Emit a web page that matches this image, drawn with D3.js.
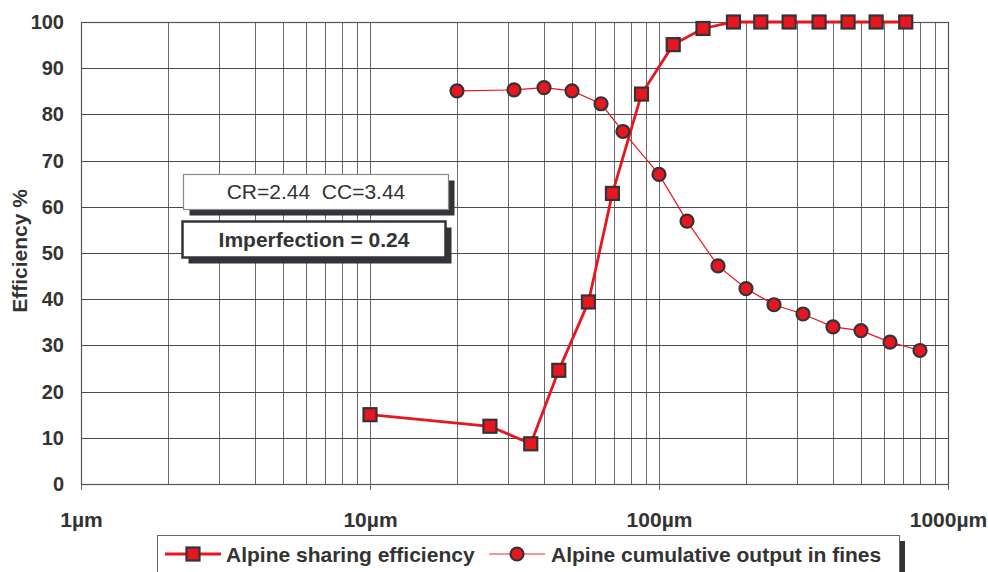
<!DOCTYPE html>
<html>
<head>
<meta charset="utf-8">
<script src="https://cdn.jsdelivr.net/npm/d3@7"></script>
<style>
  html, body { margin: 0; padding: 0; background: #fff; }
  svg { display: block; font-family: "Liberation Sans", Arial, Helvetica, sans-serif; }
  text { white-space: pre; }
</style>
</head>
<body>
<svg id="chart" width="988" height="572"></svg>
<script>
// Particle size (µm) and efficiency (%) for the sharing-efficiency curve
const sharingSize = [10, 26, 36, 45, 57, 69, 87, 112, 142, 181, 225, 282, 358, 451, 564, 714];
const sharingEff  = [15, 12.5, 8.7, 24.6, 39.4, 62.9, 84.4, 95.1, 98.6, 100, 100, 100, 100, 100, 100, 100];

// Particle size (µm) and cumulative output in fines (%)
const cumulSize = [20, 31.5, 40, 50, 63, 75, 100, 125, 160, 200, 250, 315, 400, 500, 630, 800];
const cumulOut  = [85.1, 85.3, 85.8, 85.1, 82.3, 76.3, 67, 56.9, 47.2, 42.3, 38.8, 36.8, 34.0, 33.2, 30.7, 28.9];

const yTicks = [0, 10, 20, 30, 40, 50, 60, 70, 80, 90, 100];
const xTickValues = [1, 10, 100, 1000];
const xTickLabels = ["1µm", "10µm", "100µm", "1000µm"];
const seriesNames = ["Alpine sharing efficiency", "Alpine cumulative output in fines"];
const notes = ["CR=2.44  CC=3.44", "Imperfection = 0.24"];

const svg = d3.select("#chart");
const m = { left: 81, right: 948, top: 22, bottom: 484 };
const red = "#e8161f", dark = "#333338", ink = "#333";

const x = d3.scaleLog().domain([1, 1000]).range([m.left, m.right]);
const y = d3.scaleLinear().domain([0, 100]).range([m.bottom, m.top]);

// Vertical log grid (1..9 in each decade)
const minor = [];
for (let d = 1; d < 1000; d *= 10) for (let k = 1; k <= 9; k++) minor.push(d * k);
minor.push(1000);
svg.append("g").selectAll("line").data(minor).join("line")
  .attr("x1", d => Math.round(x(d)) + 0.5).attr("x2", d => Math.round(x(d)) + 0.5)
  .attr("y1", m.top).attr("y2", m.bottom)
  .attr("stroke", "#6a6a6a").attr("stroke-width", 1);

// Horizontal grid
svg.append("g").selectAll("line").data(yTicks).join("line")
  .attr("x1", m.left).attr("x2", m.right)
  .attr("y1", d => Math.round(y(d)) + 0.5).attr("y2", d => Math.round(y(d)) + 0.5)
  .attr("stroke", "#4a4a4a").attr("stroke-width", 1);

// Frame
svg.append("rect")
  .attr("x", m.left + 0.5).attr("y", m.top + 0.5)
  .attr("width", m.right - m.left).attr("height", m.bottom - m.top)
  .attr("fill", "none").attr("stroke", "#555").attr("stroke-width", 1.2);

// Y axis labels
const yAxis = d3.axisLeft(y).tickValues(yTicks).tickSize(0).tickPadding(0);
const gy = svg.append("g").attr("transform", `translate(${m.left - 17},0)`).call(yAxis);
gy.select(".domain").remove();
gy.selectAll("text")
  .attr("font-size", 20).attr("font-weight", "bold").attr("fill", ink)
  .attr("font-family", "Liberation Sans, Arial, sans-serif");

// X axis: decade ticks below the frame plus labels
const xAxis = d3.axisBottom(x).tickValues(xTickValues)
  .tickFormat((d, i) => xTickLabels[i]).tickSize(6).tickPadding(22);
const gx = svg.append("g").attr("transform", `translate(0,${m.bottom})`).call(xAxis);
gx.select(".domain").remove();
gx.selectAll("line").attr("stroke", "#666");
gx.selectAll("text")
  .attr("font-size", 21).attr("font-weight", "bold").attr("fill", ink)
  .attr("font-family", "Liberation Sans, Arial, sans-serif");

// Y axis title
svg.append("text")
  .attr("transform", `translate(27,${(m.top + m.bottom) / 2 - 2}) rotate(-90)`)
  .attr("text-anchor", "middle")
  .attr("font-size", 21).attr("font-weight", "bold").attr("fill", ink)
  .text("Efficiency %");

// Annotation boxes with drop shadows
function noteBox(x0, y0, w, h, text, bold, strokeW, strokeC) {
  svg.append("rect").attr("x", x0 + 6).attr("y", y0 + 6).attr("width", w).attr("height", h)
    .attr("fill", dark);
  svg.append("rect").attr("x", x0).attr("y", y0).attr("width", w).attr("height", h)
    .attr("fill", "#fff").attr("stroke", strokeC).attr("stroke-width", strokeW);
  svg.append("text").attr("x", x0 + w / 2).attr("y", y0 + h / 2 + 7)
    .attr("text-anchor", "middle").attr("font-size", 21)
    .attr("font-weight", bold ? "bold" : "normal").attr("fill", ink)
    .text(text);
}
noteBox(183.5, 174.5, 265, 35, notes[0], false, 1.2, "#8a8a8a");
noteBox(182.5, 221.5, 263, 36, notes[1], true, 2.5, dark);

// Series lines
const cumulData = cumulSize.map((s, i) => [s, cumulOut[i]]);
const shareData = sharingSize.map((s, i) => [s, sharingEff[i]]);
const line = d3.line().x(d => x(d[0])).y(d => y(d[1]));

svg.append("path").datum(cumulData).attr("d", line)
  .attr("fill", "none").attr("stroke", red).attr("stroke-width", 1.2);
svg.append("path").datum(shareData).attr("d", line)
  .attr("fill", "none").attr("stroke", red).attr("stroke-width", 2.8);

// Markers
svg.append("g").selectAll("circle").data(cumulData).join("circle")
  .attr("cx", d => x(d[0])).attr("cy", d => y(d[1])).attr("r", 6.5)
  .attr("fill", red).attr("stroke", dark).attr("stroke-width", 2.2);
svg.append("g").selectAll("rect").data(shareData).join("rect")
  .attr("x", d => x(d[0]) - 6.5).attr("y", d => y(d[1]) - 6.5)
  .attr("width", 13).attr("height", 13)
  .attr("fill", red).attr("stroke", dark).attr("stroke-width", 2.2);

// Legend
const lg = svg.append("g");
lg.append("rect").attr("x", 163).attr("y", 541).attr("width", 742).attr("height", 40).attr("fill", dark);
lg.append("rect").attr("x", 157.5).attr("y", 535.5).attr("width", 742).attr("height", 40)
  .attr("fill", "#fff").attr("stroke", "#666").attr("stroke-width", 1);
const ly = 554;
lg.append("line").attr("x1", 165).attr("x2", 221).attr("y1", ly).attr("y2", ly)
  .attr("stroke", red).attr("stroke-width", 2.8);
lg.append("rect").attr("x", 186.5).attr("y", ly - 6.5).attr("width", 13).attr("height", 13)
  .attr("fill", red).attr("stroke", dark).attr("stroke-width", 2.2);
lg.append("text").attr("x", 226).attr("y", ly + 8).attr("font-size", 21).attr("font-weight", "bold")
  .attr("fill", ink).text(seriesNames[0]);
lg.append("line").attr("x1", 489).attr("x2", 545).attr("y1", ly).attr("y2", ly)
  .attr("stroke", "#f07070").attr("stroke-width", 1.5);
lg.append("circle").attr("cx", 517).attr("cy", ly).attr("r", 6.5)
  .attr("fill", red).attr("stroke", dark).attr("stroke-width", 2.2);
lg.append("text").attr("x", 551).attr("y", ly + 8).attr("font-size", 21).attr("font-weight", "bold")
  .attr("fill", ink).text(seriesNames[1]);
</script>
</body>
</html>
